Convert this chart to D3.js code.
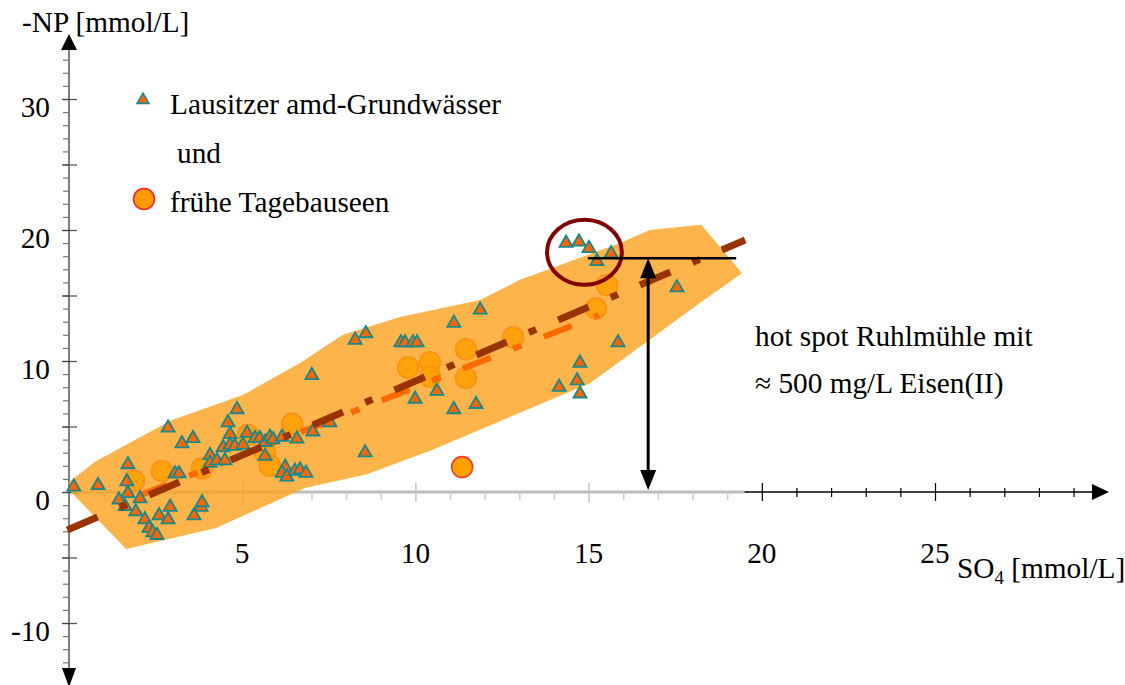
<!DOCTYPE html>
<html>
<head>
<meta charset="utf-8">
<script src="https://cdn.jsdelivr.net/npm/d3@7"></script>
<style>
  body { margin: 0; background: #fff; }
  svg text { font-family: "Liberation Serif", "Times New Roman", serif; fill: #000; }
</style>
</head>
<body>
<svg id="chart" width="1125" height="685"></svg>
<script>
// Lausitzer amd-Grundwässer (triangles), SO4 and -NP in mmol/L
const gwSO4 = [0.14, 0.84, 1.70, 1.67, 1.70, 1.44, 1.62, 2.05, 1.93, 2.19, 2.31, 2.42, 2.54, 2.60, 2.92, 2.86,
  2.86, 3.26, 3.58, 3.06, 3.18, 3.61, 3.81, 3.84, 4.07, 4.07, 4.27, 4.50, 4.85, 4.59, 4.65, 4.45, 4.65, 4.79,
  5.02, 5.14, 5.37, 5.51, 5.66, 5.80, 5.89, 6.15, 6.58, 7.04, 7.53, 5.66, 6.24, 6.15, 6.29, 6.52, 6.67, 6.84,
  7.01, 8.26, 8.57, 9.58, 9.70, 9.93, 10.05, 11.11, 11.87, 9.99, 10.62, 11.11, 11.75, 8.55,
  14.35, 14.72, 15.01, 15.24, 15.65, 17.55, 15.85, 14.75, 14.67, 14.15, 14.75];
const gwNP = [0.4, 0.5, 2.1, 0.8, -0.1, -0.6, -1.1, -0.5, -1.5, -2.1, -2.75, -3.1, -3.3, -1.8, -1.15, -2.1,
  4.9, 3.7, 4.1, 1.4, 1.4, -1.8, -1.15, -0.8, 2.8, 2.2, 2.4, 2.4, 6.3, 5.3, 4.4, 3.4, 3.6, 3.5,
  3.6, 4.5, 4.1, 4.1, 3.8, 4.2, 4.0, 4.2, 4.05, 4.6, 5.3, 2.75, 1.9, 1.45, 1.15, 1.6, 1.7, 1.45,
  8.9, 11.6, 12.1, 11.4, 11.4, 11.4, 11.4, 12.9, 13.9, 7.1, 7.7, 6.3, 6.7, 3.0,
  19.0, 19.1, 18.6, 17.6, 18.2, 15.6, 11.4, 9.85, 8.5, 8.0, 7.5];

// frühe Tagebauseen (circles)
const seeSO4 = [1.88, 2.68, 3.84, 5.17, 5.66, 5.80, 6.44, 9.79, 10.42, 10.42, 11.46, 11.46, 12.82, 15.21, 15.53, 11.35];
const seeNP = [0.85, 1.6, 1.8, 4.35, 3.0, 2.0, 5.2, 9.5, 9.9, 8.8, 10.9, 8.7, 11.8, 14.0, 15.8, 1.9];

// orange envelope around the data
const bandSO4 = [0, 0, 0.75, 2.97, 3.78, 5.02, 6.67, 7.91, 9.56, 11.87, 13.02, 15.91, 16.77, 18.25,
  19.43, 18.22, 15.04, 12.44, 10.48, 8.6, 6.81, 4.24, 1.65];
const bandNP = [0.15, 0.75, 2.3, 5.5, 6.25, 7.4, 9.85, 12.0, 13.35, 14.65, 16.2, 19.0, 20.0, 20.4,
  16.7, 14.45, 8.3, 5.4, 3.2, 1.35, 0.3, -2.75, -4.35];

// trend lines (start / end)
const trendDarkSO4 = [-0.05, 19.52];
const trendDarkNP = [-2.9, 19.24];
const trendLightSO4 = [1.8, 15.3];
const trendLightNP = [-0.5, 13.5];

// hot spot Ruhlmühle
const hotArrowSO4 = 16.72;
const hotLevelNP = 17.85;
const hotLineSO4 = [14.98, 19.26];
const hotCircle = { so4: 14.88, np: 18.3, rSO4: 1.08, rNP: 2.48 };

// ticks
const xTickLabels = [5, 10, 15, 20, 25];
const yTickLabels = [-10, 0, 10, 20, 30];

const svg = d3.select('#chart');
const x = d3.scaleLinear().domain([0, 25]).range([69, 935]);
const y = d3.scaleLinear().domain([0, 30]).range([492, 99]);
const x0 = x(0), y0 = y(0);
const FONT = 29.3;

// ---- x axis, grey part (0 .. 19.5)
const xa = svg.append('g');
xa.append('line')
  .attr('x1', x0).attr('x2', x(19.5)).attr('y1', y0).attr('y2', y0)
  .attr('stroke', '#bcbcbc').attr('stroke-width', 3);
xa.append('g').attr('transform', `translate(0,${y0})`)
  .call(d3.axisBottom(x).tickValues(d3.range(1, 20).filter(v => v % 5)).tickSize(8).tickFormat(''))
  .call(g => g.select('.domain').remove())
  .call(g => g.selectAll('line').attr('stroke', '#cccccc').attr('stroke-width', 1.5));
xa.append('g').attr('transform', `translate(0,${y0 - 9})`)
  .call(d3.axisBottom(x).tickValues([5, 10, 15]).tickSize(19).tickFormat(''))
  .call(g => g.select('.domain').remove())
  .call(g => g.selectAll('line').attr('stroke', '#c4c4c4').attr('stroke-width', 1.5));

// ---- x axis, black part (19.5 .. arrow)
xa.append('line')
  .attr('x1', x(19.5)).attr('x2', 1094).attr('y1', y0).attr('y2', y0)
  .attr('stroke', '#000').attr('stroke-width', 1.5);
xa.append('g').attr('transform', `translate(0,${y0 - 4})`)
  .call(d3.axisBottom(x).tickValues(d3.range(21, 30).filter(v => v % 5)).tickSize(9).tickFormat(''))
  .call(g => g.select('.domain').remove())
  .call(g => g.selectAll('line').attr('stroke', '#000').attr('stroke-width', 1.2));
xa.append('g').attr('transform', `translate(0,${y0 - 9})`)
  .call(d3.axisBottom(x).tickValues([20, 25]).tickSize(18).tickFormat(''))
  .call(g => g.select('.domain').remove())
  .call(g => g.selectAll('line').attr('stroke', '#000').attr('stroke-width', 1.2));
xa.append('path')
  .attr('d', `M1109,${y0}L1092,${y0 - 8}L1092,${y0 + 8}Z`)
  .attr('fill', '#000');

// ---- y axis
const ya = svg.append('g');
ya.append('line')
  .attr('x1', x0).attr('x2', x0).attr('y1', 48).attr('y2', 670)
  .attr('stroke', '#555').attr('stroke-width', 1.5);
ya.append('g').attr('transform', `translate(${x0},0)`)
  .call(d3.axisLeft(y).tickValues(d3.range(-13, 34)).tickSize(6).tickFormat(''))
  .call(g => g.select('.domain').remove())
  .call(g => g.selectAll('line').attr('stroke', '#777').attr('stroke-width', 1.2));
ya.append('g').attr('transform', `translate(${x0},0)`)
  .call(d3.axisLeft(y).tickValues(d3.range(-10, 31, 5)).tickSize(7).tickFormat(''))
  .call(g => g.select('.domain').remove())
  .call(g => g.selectAll('line').attr('stroke', '#444').attr('stroke-width', 1.3));
ya.append('g').attr('transform', `translate(${x0},0)`)
  .call(d3.axisRight(y).tickValues(d3.range(-10, 31, 5)).tickSize(8).tickFormat(''))
  .call(g => g.select('.domain').remove())
  .call(g => g.selectAll('line').attr('stroke', '#555').attr('stroke-width', 1.3));
ya.append('path').attr('d', `M${x0},34L${x0 - 8},50L${x0 + 8},50Z`).attr('fill', '#000');
ya.append('path').attr('d', `M${x0},687L${x0 - 7},668L${x0 + 7},668Z`).attr('fill', '#000');

// tick labels
svg.append('g').selectAll('text').data(yTickLabels).join('text')
  .attr('x', 50).attr('y', d => y(d) + 18)
  .attr('text-anchor', 'end').attr('font-size', FONT)
  .text(d => d);
svg.append('g').selectAll('text').data(xTickLabels).join('text')
  .attr('x', d => x(d)).attr('y', 563)
  .attr('text-anchor', 'middle').attr('font-size', FONT)
  .text(d => d);

// ---- band
const band = d3.range(bandSO4.length).map(i => [x(bandSO4[i]), y(bandNP[i])]);
svg.append('path')
  .attr('d', d3.line().curve(d3.curveLinearClosed)(band))
  .attr('fill', 'rgb(252,161,30)').attr('fill-opacity', 0.8);

// ---- circles (red rim only where they lie outside the band)
const seen = d3.range(seeSO4.length).map(i => ({ so4: seeSO4[i], np: seeNP[i] }));
svg.append('g').selectAll('circle').data(seen).join('circle')
  .attr('cx', d => x(d.so4)).attr('cy', d => y(d.np)).attr('r', 10.5)
  .each(function (d) {
    const inside = d3.polygonContains(band, [x(d.so4), y(d.np)]);
    d3.select(this)
      .attr('fill', '#ff9f00')
      .attr('fill-opacity', inside ? 0.85 : 1)
      .attr('stroke', inside ? '#ff8a10' : '#f03a2a')
      .attr('stroke-opacity', inside ? 0.8 : 1)
      .attr('stroke-width', 1.6);
  });

// ---- light trend line
const lineGen = d3.line().x(d => x(d[0])).y(d => y(d[1]));
svg.append('path')
  .attr('d', lineGen(d3.zip(trendLightSO4, trendLightNP)))
  .attr('stroke', '#ff6a00').attr('stroke-width', 6).attr('fill', 'none')
  .attr('stroke-dasharray', '30,24,9,24').attr('stroke-dashoffset', -8);

// ---- triangles
const gw = d3.range(gwSO4.length).map(i => ({ so4: gwSO4[i], np: gwNP[i] }));
const tri = d3.symbol(d3.symbolTriangle, 74);
svg.append('g').selectAll('path').data(gw).join('path')
  .attr('d', tri)
  .attr('transform', d => `translate(${x(d.so4)},${y(d.np)})`)
  .attr('fill', '#ff6600').attr('stroke', '#16898c').attr('stroke-width', 1.8);

// ---- dark trend line
svg.append('path')
  .attr('d', lineGen(d3.zip(trendDarkSO4, trendDarkNP)))
  .attr('stroke', '#993300').attr('stroke-width', 7).attr('fill', 'none')
  .attr('stroke-dasharray', '33,24,8,24');

// ---- hot spot marker
svg.append('ellipse')
  .attr('cx', x(hotCircle.so4)).attr('cy', y(hotCircle.np))
  .attr('rx', x(hotCircle.rSO4) - x0).attr('ry', y0 - y(hotCircle.rNP))
  .attr('fill', 'none').attr('stroke', '#800000').attr('stroke-width', 4);
svg.append('line')
  .attr('x1', x(hotLineSO4[0])).attr('x2', x(hotLineSO4[1]))
  .attr('y1', y(hotLevelNP)).attr('y2', y(hotLevelNP))
  .attr('stroke', '#000').attr('stroke-width', 2.5);
const ax = x(hotArrowSO4), aTop = y(hotLevelNP), aBot = y(0) - 2;
svg.append('line')
  .attr('x1', ax).attr('x2', ax).attr('y1', aTop + 15).attr('y2', aBot - 15)
  .attr('stroke', '#000').attr('stroke-width', 3);
svg.append('path').attr('d', `M${ax},${aTop}L${ax - 8},${aTop + 20}L${ax + 8},${aTop + 20}Z`).attr('fill', '#000');
svg.append('path').attr('d', `M${ax},${aBot}L${ax - 8},${aBot - 20}L${ax + 8},${aBot - 20}Z`).attr('fill', '#000');

// ---- legend
svg.append('path').attr('d', d3.symbol(d3.symbolTriangle, 60)())
  .attr('transform', 'translate(143,100)')
  .attr('fill', '#ff6600').attr('stroke', '#16898c').attr('stroke-width', 1.6);
svg.append('circle').attr('cx', 144).attr('cy', 199).attr('r', 10.5)
  .attr('fill', '#ff9900').attr('stroke', '#f02a2a').attr('stroke-width', 1.6);

const texts = [
  { t: '-NP [mmol/L]', x: 22, y: 32 },
  { t: 'Lausitzer amd-Grundwässer', x: 170, y: 114 },
  { t: 'und', x: 177, y: 163 },
  { t: 'frühe Tagebauseen', x: 170, y: 212 },
  { t: 'hot spot Ruhlmühle mit', x: 755, y: 346 },
  { t: '≈ 500 mg/L Eisen(II)', x: 755, y: 393 }
];
svg.append('g').selectAll('text').data(texts).join('text')
  .attr('x', d => d.x).attr('y', d => d.y).attr('font-size', FONT)
  .text(d => d.t);

const so4 = svg.append('text').attr('x', 957).attr('y', 578).attr('font-size', FONT);
so4.append('tspan').text('SO');
so4.append('tspan').attr('font-size', 19).attr('dy', 6).text('4');
so4.append('tspan').attr('dy', -6).text(' [mmol/L]');
</script>
</body>
</html>
